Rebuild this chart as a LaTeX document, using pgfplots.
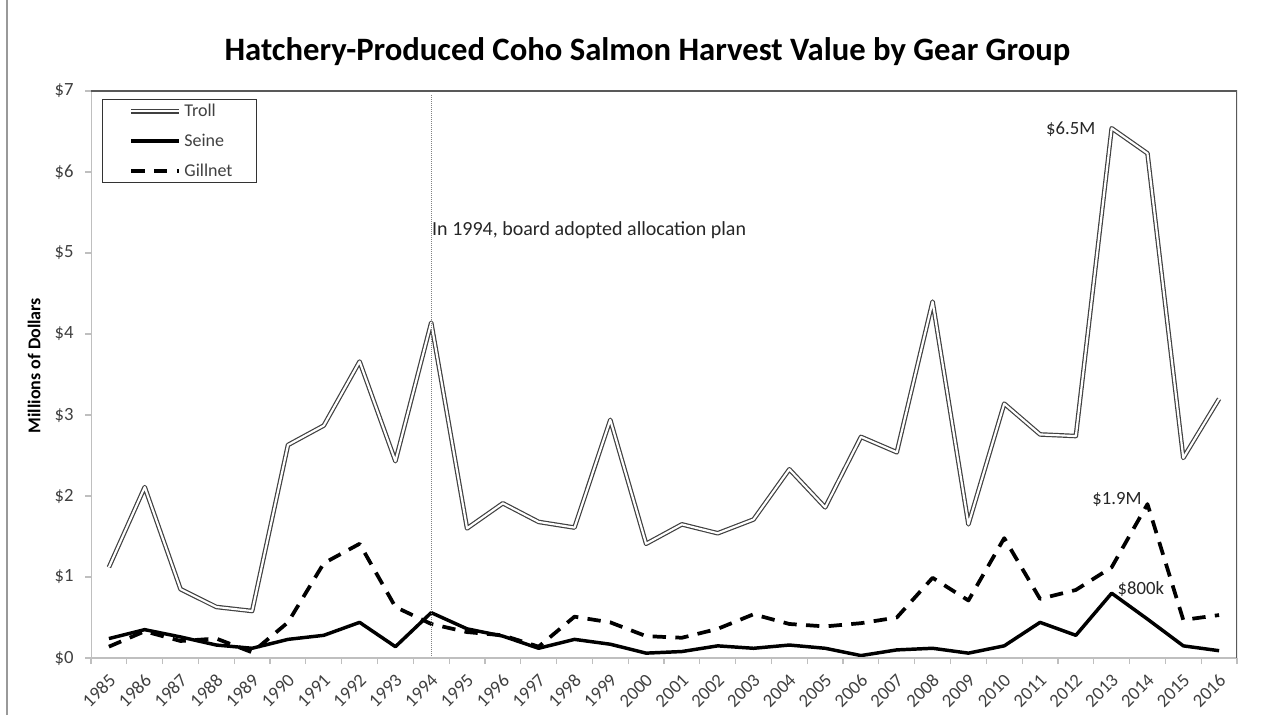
\documentclass[border=0pt]{standalone}
\usepackage{pgfplots}
\pgfplotsset{compat=1.18}
\usepackage{fontspec}
\setmainfont{Carlito}
\pgfplotstableread{
idx troll seine gillnet
0  1.12 0.24 0.14
1  2.11 0.35 0.33
2  0.85 0.26 0.21
3  0.63 0.16 0.24
4  0.58 0.12 0.07
5  2.63 0.23 0.44
6  2.87 0.28 1.17
7  3.66 0.44 1.41
8  2.43 0.14 0.63
9  4.14 0.56 0.42
10 1.60 0.36 0.32
11 1.91 0.27 0.28
12 1.68 0.12 0.14
13 1.61 0.23 0.51
14 2.94 0.17 0.44
15 1.41 0.06 0.27
16 1.65 0.08 0.25
17 1.54 0.15 0.36
18 1.71 0.12 0.54
19 2.33 0.16 0.42
20 1.86 0.12 0.39
21 2.73 0.03 0.43
22 2.54 0.10 0.50
23 4.40 0.12 0.99
24 1.65 0.06 0.71
25 3.14 0.15 1.48
26 2.76 0.44 0.73
27 2.74 0.28 0.84
28 6.54 0.80 1.12
29 6.23 0.48 1.90
30 2.47 0.15 0.47
31 3.20 0.09 0.53
}\datatable
\definecolor{axisgray}{HTML}{BFBFBF}
\definecolor{bordergray}{HTML}{595959}
\definecolor{ticktext}{HTML}{404040}
\begin{document}
\begin{tikzpicture}
\useasboundingbox (0,0) rectangle (952.5pt,536.25pt);
\draw[color=black!40, line width=1.6pt] (5.25pt,0) -- (5.25pt,536.25pt);
\begin{axis}[
  at={(68.25pt,42.75pt)}, anchor=south west,
  width=859.5pt, height=425.25pt, scale only axis,
  xmin=-0.5, xmax=31.5, ymin=0, ymax=7,
  axis line style={draw=none},
  xtick={-0.5,0.5,...,31.5},
  x tick label as interval,
  xticklabels={1985,1986,1987,1988,1989,1990,1991,1992,1993,1994,1995,1996,1997,1998,1999,2000,2001,2002,2003,2004,2005,2006,2007,2008,2009,2010,2011,2012,2013,2014,2015,2016},
  ytick={0,1,...,7},
  yticklabels={\$0,\$1,\$2,\$3,\$4,\$5,\$6,\$7},
  tick align=outside, xtick pos=bottom, ytick pos=left,
  major tick length=4.5pt,
  tick style={draw=axisgray, line width=0.9pt},
  ticklabel style={font=\fontsize{14}{16}\selectfont, text=ticktext},
  xticklabel style={xshift=5pt, yshift=-7.5pt, rotate=45, anchor=east},
  yticklabel style={xshift=-5pt},
  legend style={at={(0.0096,0.986)}, anchor=north west, draw=black!80, line width=0.8pt,
    font=\fontsize{13.5}{16}\selectfont, text=ticktext, inner xsep=8pt, inner ysep=1.5pt, row sep=7.5pt,
    nodes={text width=44pt, align=left}},
  legend cell align=left,
  legend image code/.code={\path (0pt,0pt); \draw[#1] (12pt,0pt) -- (48pt,0pt);},
]
\addplot[draw=black!75, line width=0.9pt, double=white, double distance=1.6pt, line join=round] table[x=idx,y=troll]{\datatable};
\addlegendentry{Troll}
\addplot[draw=black, line width=2.6pt, line join=round] table[x=idx,y=seine]{\datatable};
\addlegendentry{Seine}
\addplot[draw=black, line width=2.8pt, dash pattern=on 10pt off 7pt, line join=round] table[x=idx,y=gillnet]{\datatable};
\addlegendentry{Gillnet}
\draw[gray, line width=0.5pt, densely dotted] (axis cs:9,6.95) -- (axis cs:9,0);
\draw[axisgray, line width=1.1pt] (rel axis cs:0,0) -- (rel axis cs:1,0);
\draw[axisgray, line width=1.1pt] (rel axis cs:0,0) -- (rel axis cs:0,1);
\draw[bordergray, line width=1pt] (rel axis cs:0,1) -- (rel axis cs:1,1) -- (rel axis cs:1,0);
\node[anchor=west, font=\fontsize{15}{17}\selectfont, text=black!85, inner sep=0pt] at (axis cs:9.02,5.28) {In 1994, board adopted allocation plan};
\node[anchor=east, font=\fontsize{14}{16}\selectfont, text=black!85, inner sep=0pt] at (axis cs:27.55,6.53) {\$6.5M};
\node[anchor=east, font=\fontsize{14}{16}\selectfont, text=black!85, inner sep=0pt] at (axis cs:28.84,1.96) {\$1.9M};
\node[anchor=west, font=\fontsize{14}{16}\selectfont, text=black!85, inner sep=0pt] at (axis cs:28.16,0.85) {\$800k};
\end{axis}
\node[font=\fontsize{24.5}{28}\selectfont\bfseries] at (485.6pt,497.25pt) {Hatchery-Produced Coho Salmon Harvest Value by Gear Group};
\node[rotate=90, font=\fontsize{13.5}{16}\selectfont\bfseries] at (25.5pt,262pt) {Millions of Dollars};
\end{tikzpicture}
\end{document}
